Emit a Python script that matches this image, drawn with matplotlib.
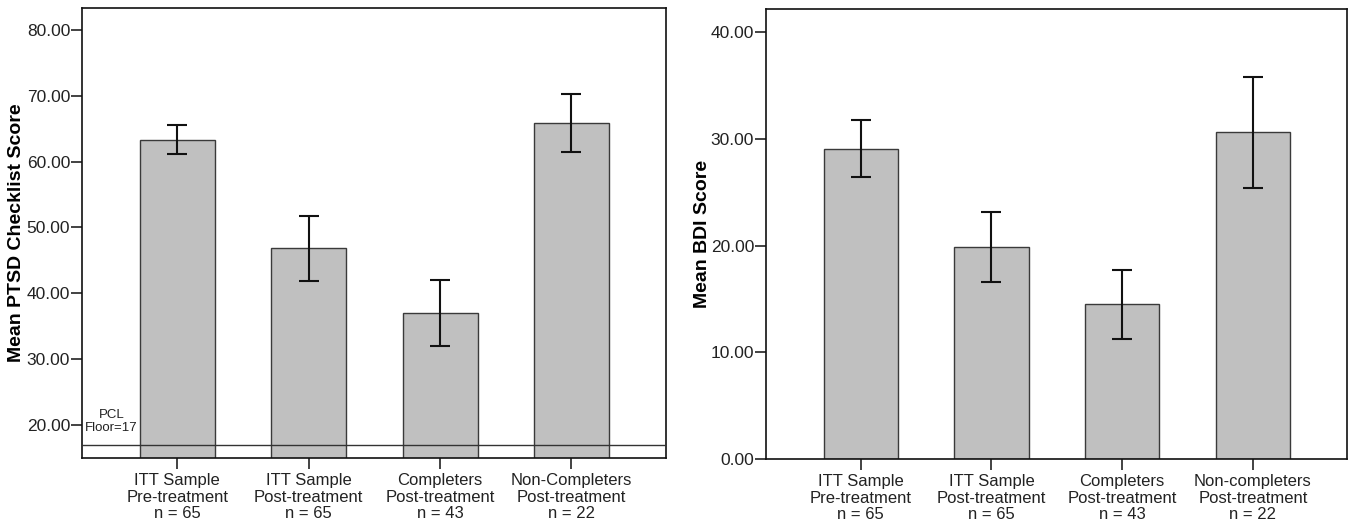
import matplotlib
matplotlib.use("Agg")
import matplotlib.pyplot as plt
import numpy as np

plt.rcParams['font.family'] = ['Liberation Sans', 'DejaVu Sans']

# Data
pcl_labels = ["ITT Sample\nPre-treatment\nn = 65", "ITT Sample\nPost-treatment\nn = 65",
              "Completers\nPost-treatment\nn = 43", "Non-Completers\nPost-treatment\nn = 22"]
pcl_means = [63.3, 46.8, 37.0, 65.8]
pcl_err = [2.2, 4.9, 5.0, 4.4]
pcl_floor = 17

bdi_labels = ["ITT Sample\nPre-treatment\nn = 65", "ITT Sample\nPost-treatment\nn = 65",
              "Completers\nPost-treatment\nn = 43", "Non-completers\nPost-treatment\nn = 22"]
bdi_means = [29.1, 19.9, 14.5, 30.65]
bdi_err = [2.7, 3.3, 3.25, 5.2]

pcl_ticks = [20, 30, 40, 50, 60, 70, 80]
bdi_ticks = [0, 10, 20, 30, 40]

fig = plt.figure(figsize=(13.56, 5.29), dpi=100)
ax1 = fig.add_axes([0.0605, 0.1342, 0.4307, 0.8507])
ax2 = fig.add_axes([0.5649, 0.1323, 0.4285, 0.8507])

bar_color = "#c0c0c0"
edge_color = "#3a3a3a"

def draw(ax, labels, means, err, ticks, ylim, ylabel):
    x = np.arange(len(means))
    ax.bar(x, means, width=0.57, color=bar_color, edgecolor=edge_color, linewidth=1.0, zorder=2)
    ax.errorbar(x, means, yerr=err, fmt='none', ecolor='#111111', elinewidth=1.5,
                capsize=7, capthick=1.5, zorder=3)
    ax.set_xlim(-0.725, 3.72)
    ax.set_ylim(*ylim)
    ax.set_yticks(ticks)
    ax.set_yticklabels([f"{t:.2f}" for t in ticks], fontsize=12.5, color="#222222")
    ax.set_xticks(x)
    ax.set_xticklabels(labels, fontsize=12, color="#222222", linespacing=1.12)
    ax.tick_params(axis='both', direction='out', length=8, width=1.2, color="#222222")
    ax.tick_params(axis='x', pad=3)
    ax.tick_params(axis='y', pad=0.5)
    for s in ax.spines.values():
        s.set_linewidth(1.2)
        s.set_color("#111111")
    ax.set_ylabel(ylabel, fontsize=14, fontweight='bold')

draw(ax1, pcl_labels, pcl_means, pcl_err, pcl_ticks, (15, 83.3), "Mean PTSD Checklist Score")
ax1.axhline(pcl_floor, color="#333333", linewidth=1.0, zorder=4)
ax1.text(-0.5, pcl_floor + 1.6, "PCL\nFloor=17", ha='center', va='bottom', fontsize=9.5,
         linespacing=1.12, color="#222222")
ax1.yaxis.set_label_coords(-0.097, 0.5)

draw(ax2, bdi_labels, bdi_means, bdi_err, bdi_ticks, (0, 42.2), "Mean BDI Score")
ax2.yaxis.set_label_coords(-0.095, 0.5)

fig.savefig("out.png", dpi=100)
